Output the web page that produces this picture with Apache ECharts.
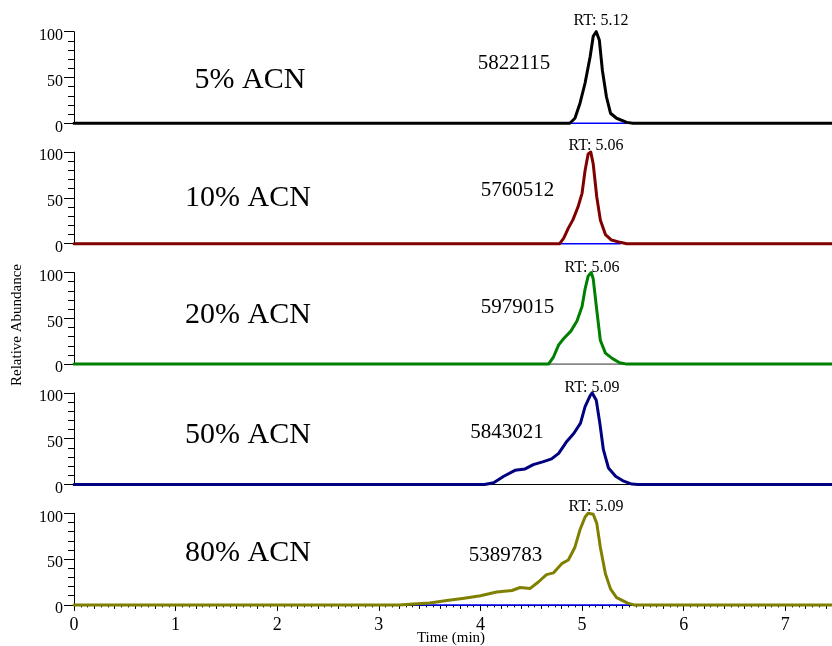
<!DOCTYPE html>
<html>
<head>
<meta charset="utf-8">
<script src="https://cdn.jsdelivr.net/npm/echarts@6/dist/echarts.min.js"></script>
<style>
html,body{margin:0;padding:0;background:#fff;}
#c{width:832px;height:646px;}
</style>
</head>
<body>
<div id="c"></div>
<script>
// ---- data ----
const panelNames = ['5% ACN', '10% ACN', '20% ACN', '50% ACN', '80% ACN'];
const areaLabels = ['5822115', '5760512', '5979015', '5843021', '5389783'];
const rtLabels = ['RT: 5.12', 'RT: 5.06', 'RT: 5.06', 'RT: 5.09', 'RT: 5.09'];
const xTickLabels = ['0', '1', '2', '3', '4', '5', '6', '7'];
const yTickLabels = ['0', '50', '100'];

const t1 = [0, 4.88, 4.93, 4.98, 5.03, 5.08, 5.11, 5.14, 5.17, 5.20, 5.24, 5.28, 5.34, 5.44, 5.50, 7.46];
const v1 = [0, 0, 5.5, 22, 44, 73, 95, 100, 91, 58, 29, 11, 5.5, 1, 0, 0];

const t2 = [0, 4.78, 4.82, 4.865, 4.91, 4.96, 5.00, 5.03, 5.06, 5.086, 5.11, 5.145, 5.18, 5.23, 5.29, 5.375, 5.44, 7.46];
const v2 = [0, 0, 6, 17, 26, 40, 55, 80, 98, 100, 87, 51, 26, 10, 4, 1.5, 0, 0];

const t3 = [0, 4.67, 4.72, 4.77, 4.82, 4.89, 4.95, 5.00, 5.03, 5.06, 5.09, 5.11, 5.145, 5.18, 5.23, 5.30, 5.37, 5.44, 7.46];
const v3 = [0, 0, 8, 21, 28, 36, 47, 63, 82, 96, 100, 93, 59, 26, 12, 6, 1.5, 0, 0];

const t4 = [0, 4.04, 4.13, 4.23, 4.34, 4.44, 4.52, 4.62, 4.70, 4.77, 4.85, 4.92, 4.985, 5.03, 5.08, 5.10, 5.14, 5.175, 5.21, 5.26, 5.33, 5.41, 5.49, 5.55, 7.46];
const v4 = [0, 0, 2, 9, 15.5, 17, 21.7, 25, 28, 34, 47, 56, 67, 85, 97, 100, 92, 67, 38, 18, 9, 3.6, 0.5, 0, 0];

const t5 = [0, 3.2, 3.34, 3.50, 3.67, 3.84, 4.0, 4.16, 4.31, 4.39, 4.49, 4.57, 4.65, 4.72, 4.80, 4.865, 4.93, 4.98, 5.03, 5.06, 5.11, 5.145, 5.18, 5.23, 5.28, 5.34, 5.45, 5.51, 7.46];
const v5 = [0, 0, 1, 2, 4.7, 7.3, 10, 14, 15.7, 19, 18, 25, 33, 35, 45, 49, 63, 82, 96, 100, 99, 89, 63, 34, 17.5, 8, 2, 0, 0];

// integration baselines [start, end] (min)
const base1 = [4.86, 5.44];
const base2 = [4.77, 5.38];
const base3 = [4.67, 5.44];
const base4 = null;
const base5 = [3.34, 5.47];

// ---- layout / styling ----
const times = [t1, t2, t3, t4, t5];
const vals = [v1, v2, v3, v4, v5];
const bases = [base1, base2, base3, base4, base5];
const colors = ['#000000', '#800000', '#008000', '#000080', '#808000'];
const baseColors = ['#0000ff', '#0000ff', '#888888', '#000000', '#0000ff'];
const axisLineColors = ['#888888', '#888888', '#888888', '#000000', '#000000'];
const XMAX = 7.46;
const GL = 74, TOP0 = 31.7, STEP = 120.4, H = 91.6;
const SERIF = '"Liberation Serif", "Times New Roman", serif';

const grids = [], xAxes = [], yAxes = [], series = [];
for (let i = 0; i < 5; i++) {
  grids.push({ left: GL, right: 0, top: TOP0 + STEP * i, height: H });
  const last = i === 4;
  xAxes.push({
    type: 'value', gridIndex: i, min: 0, max: XMAX, interval: 1,
    axisLine: { show: true, onZero: false, lineStyle: { color: axisLineColors[i], width: 1 } },
    axisTick: { show: last, length: 6, lineStyle: { color: '#000' } },
    minorTick: { show: last, splitNumber: 15, length: 2.5, lineStyle: { color: '#000' } },
    axisLabel: {
      show: last, showMaxLabel: false, margin: 11, color: '#000',
      fontFamily: SERIF, fontSize: 18,
      formatter: v => xTickLabels[Math.round(v)] !== undefined && Math.abs(v - Math.round(v)) < 1e-6 ? xTickLabels[Math.round(v)] : ''
    },
    splitLine: { show: false }
  });
  yAxes.push({
    type: 'value', gridIndex: i, min: 0, max: 100, interval: 50,
    axisLine: { show: true, lineStyle: { color: '#000', width: 1 } },
    axisTick: { show: true, length: 10, lineStyle: { color: '#000' } },
    minorTick: { show: true, splitNumber: 5, length: 6, lineStyle: { color: '#000' } },
    axisLabel: {
      margin: 11, color: '#000', fontFamily: SERIF, fontSize: 16,
      verticalAlign: 'top', lineHeight: 8,
      formatter: v => yTickLabels[Math.round(v / 50)]
    },
    splitLine: { show: false }
  });
  if (bases[i]) {
    series.push({
      type: 'line', xAxisIndex: i, yAxisIndex: i, clip: false, z: 1,
      data: [[bases[i][0], 0], [bases[i][1], 0]],
      symbol: 'none', silent: true,
      lineStyle: { color: baseColors[i], width: 1.5 }
    });
  }
  series.push({
    type: 'line', xAxisIndex: i, yAxisIndex: i, clip: false, z: 3,
    data: times[i].map((t, k) => [t, vals[i][k]]),
    symbol: 'none', silent: true,
    lineStyle: { color: colors[i], width: 3, join: 'round', cap: 'round' }
  });
}
// extra grid for the medium ticks (every 0.2 min) of the bottom axis
grids.push({ left: GL, right: 0, top: TOP0 + STEP * 4, height: H });
xAxes.push({
  type: 'value', gridIndex: 5, min: 0, max: XMAX, interval: 0.2,
  axisLine: { show: false }, axisLabel: { show: false },
  axisTick: { show: true, length: 4, lineStyle: { color: '#000' } },
  splitLine: { show: false }
});
yAxes.push({ type: 'value', gridIndex: 5, min: 0, max: 100, show: false });

const namePos = [[250, 80], [248, 198], [248, 315], [248, 435], [248, 553]];
const areaPos = [[514, 63.7], [517.5, 190], [517.5, 307.5], [507, 432], [505.5, 555]];
const rtPos = [[601, 20.5], [596, 145.5], [592, 267.5], [592, 387.5], [596, 506.5]];

const graphics = [];
function txt(x, y, text, size, extra) {
  return Object.assign({
    type: 'text', x: x, y: y, z: 10, silent: true,
    style: { text: text, fill: '#000', font: size + 'px ' + SERIF, align: 'center', verticalAlign: 'middle' }
  }, extra || {});
}
for (let i = 0; i < 5; i++) {
  graphics.push(txt(namePos[i][0], namePos[i][1], panelNames[i], 30));
  graphics.push(txt(areaPos[i][0], areaPos[i][1], areaLabels[i], 21));
  graphics.push(txt(rtPos[i][0], rtPos[i][1], rtLabels[i], 16));
}
graphics.push(txt(17, 325, 'Relative Abundance', 15, { rotation: Math.PI / 2 }));
graphics.push(txt(451, 638, 'Time (min)', 15));

const chart = echarts.init(document.getElementById('c'), null, { renderer: 'canvas' });
chart.setOption({
  animation: false,
  backgroundColor: '#fff',
  grid: grids,
  xAxis: xAxes,
  yAxis: yAxes,
  series: series,
  graphic: graphics
});
</script>
</body>
</html>
